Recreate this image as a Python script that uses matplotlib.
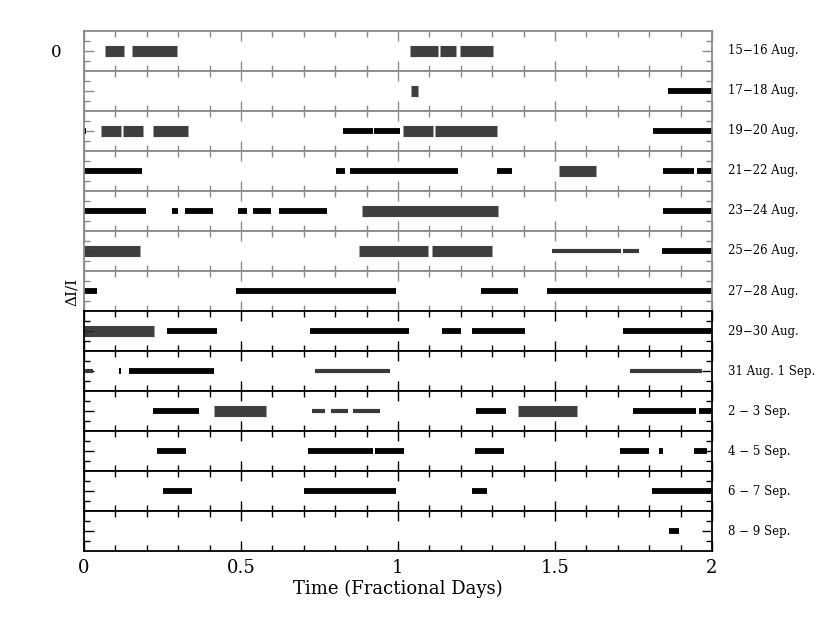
import matplotlib
matplotlib.use("Agg")
import matplotlib.pyplot as plt
from matplotlib.ticker import MultipleLocator, FuncFormatter

plt.rcParams['font.family'] = 'DejaVu Serif'

# observing nights (right-hand labels)
nights = ["15\u221216 Aug.", "17\u221218 Aug.", "19\u221220 Aug.", "21\u221222 Aug.",
          "23\u221224 Aug.", "25\u221226 Aug.", "27\u221228 Aug.", "29\u221230 Aug.",
          "31 Aug. 1 Sep.", "2 \u2212 3 Sep.", "4 \u2212 5 Sep.", "6 \u2212 7 Sep.",
          "8 \u2212 9 Sep."]

# data runs: (start, end, kind)
# kind: 'w' = smooth oscillating run, 'n' = noisy run, 't' = faint run
aug15 = [(0.067, 0.127, 'n'), (0.152, 0.296, 'n'), (1.038, 1.127, 'n'),
         (1.134, 1.185, 'n'), (1.197, 1.302, 'n')]
aug17 = [(1.040, 1.065, 'n'), (1.861, 2.0, 'w')]
aug19 = [(0.0, 0.006, 'w'), (0.053, 0.118, 'n'), (0.125, 0.189, 'n'),
         (0.219, 0.330, 'n'), (0.824, 0.920, 'w'), (0.925, 1.006, 'w'),
         (1.017, 1.112, 'n'), (1.118, 1.316, 'n'), (1.813, 2.0, 'w')]
aug21 = [(0.0, 0.184, 'w'), (0.803, 0.831, 'w'), (0.847, 1.192, 'w'),
         (1.316, 1.363, 'w'), (1.513, 1.630, 'n'), (1.845, 1.943, 'w'),
         (1.951, 2.0, 'w')]
aug23 = [(0.0, 0.197, 'w'), (0.279, 0.300, 'w'), (0.322, 0.412, 'w'),
         (0.491, 0.518, 'w'), (0.537, 0.595, 'w'), (0.621, 0.773, 'w'),
         (0.884, 1.319, 'n'), (1.845, 2.0, 'w')]
aug25 = [(0.0, 0.178, 'n'), (0.877, 1.097, 'n'), (1.107, 1.298, 'n'),
         (1.491, 1.709, 't'), (1.717, 1.768, 't'), (1.840, 2.0, 'w')]
aug27 = [(0.0, 0.042, 'w'), (0.484, 0.994, 'w'), (1.263, 1.383, 'w'),
         (1.473, 2.0, 'w')]
aug29 = [(0.0, 0.224, 'n'), (0.263, 0.425, 'w'), (0.720, 1.035, 'w'),
         (1.141, 1.200, 'w'), (1.237, 1.406, 'w'), (1.717, 2.0, 'w')]
aug31 = [(0.0, 0.030, 't'), (0.113, 0.117, 'w'), (0.144, 0.414, 'w'),
         (0.736, 0.975, 't'), (1.739, 1.967, 't')]
sep2 = [(0.221, 0.367, 'w'), (0.414, 0.579, 'n'), (0.725, 0.768, 't'),
        (0.787, 0.840, 't'), (0.856, 0.943, 't'), (1.250, 1.344, 'w'),
        (1.383, 1.571, 'n'), (1.747, 1.949, 'w'), (1.960, 2.0, 'w')]
sep4 = [(0.231, 0.325, 'w'), (0.714, 0.921, 'w'), (0.927, 1.020, 'w'),
        (1.245, 1.339, 'w'), (1.707, 1.800, 'w'), (1.832, 1.843, 'w'),
        (1.943, 1.983, 'w')]
sep6 = [(0.253, 0.343, 'w'), (0.702, 0.994, 'w'), (1.235, 1.282, 'w'),
        (1.808, 2.0, 'w')]
sep8 = [(0.0, 0.004, 'w'), (1.863, 1.896, 'w')]

runs = [aug15, aug17, aug19, aug21, aug23, aug25, aug27, aug29, aug31,
        sep2, sep4, sep6, sep8]

estilo = {'w': dict(color='black', lw=4.2),
          'n': dict(color='#2a2a2a', lw=8.0, alpha=0.9),
          't': dict(color='#3a3a3a', lw=3.0)}

fig, axes = plt.subplots(len(nights), 1, sharex=True, figsize=(8.3, 6.21), dpi=100)
fig.subplots_adjust(left=0.1012, right=0.8578, top=0.9501, bottom=0.1127, hspace=0)

for i, ax in enumerate(axes):
    for ini, fim, kind in runs[i]:
        ax.plot([ini, fim], [0, 0], solid_capstyle='butt', **estilo[kind])
    ax.set_xlim(0, 2)
    ax.set_ylim(-1, 1)
    ax.xaxis.set_major_locator(MultipleLocator(0.5))
    ax.xaxis.set_minor_locator(MultipleLocator(0.1))
    ax.xaxis.set_major_formatter(FuncFormatter(lambda v, p: '%g' % v))
    ax.set_yticks([0])
    ax.set_yticks([-0.5, 0.5], minor=True)
    cor = '#8a8a8a' if i < 7 else 'black'
    for s in ax.spines.values():
        s.set_color(cor)
        s.set_linewidth(1.3)
    ax.tick_params(which='both', direction='in', top=True, right=True,
                   color=cor, width=1.0)
    ax.tick_params(which='major', length=7)
    ax.tick_params(which='minor', length=4)
    ax.set_yticklabels(['0'] if i == 0 else [''])
    ax.tick_params(axis='y', labelsize=12, pad=16)
    ax.text(1.025, 0.5, nights[i], transform=ax.transAxes, fontsize=8.5,
            va='center', ha='left')
    if i < len(nights) - 1:
        ax.tick_params(axis='x', labelbottom=False)

axes[-1].tick_params(axis='x', labelsize=13, pad=6)
axes[-1].set_xlabel("Time (Fractional Days)", fontsize=13, labelpad=2)
fig.text(0.087, 0.53, "\u0394I/I", rotation=90, fontsize=11,
         ha='center', va='center')

fig.savefig("out.png", dpi=100)
